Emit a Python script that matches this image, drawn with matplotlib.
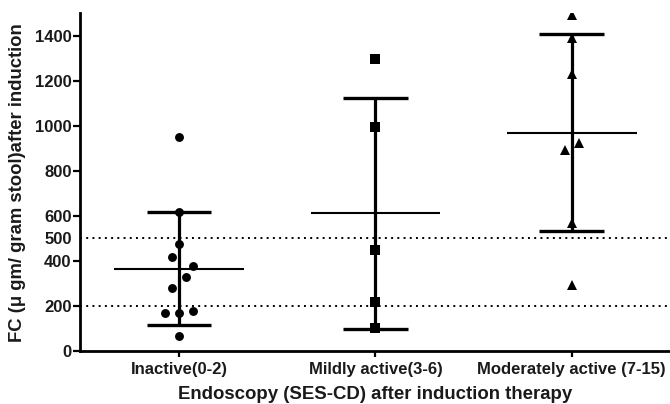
import numpy as np
import matplotlib
matplotlib.use("Agg")
import matplotlib.pyplot as plt

plt.rcParams['font.family'] = ['Liberation Sans', 'DejaVu Sans']

categories = ["Inactive(0-2)", "Mildly active(3-6)", "Moderately active (7-15)"]

inactive = [951, 616, 475, 416, 378, 328, 279, 167, 167, 176, 68]
inactive_offset = [0, 0, 0, -1, 2, 1, -1, -2, 0, 2, 0]

mild = [1296, 997, 447, 216, 101]
mild_offset = [0, 0, 0, 0, 0]

moderate = [1493, 1393, 1231, 923, 893, 570, 293]
moderate_offset = [0, 0, 0, 1, -1, 0, 0]

groups = [inactive, mild, moderate]
offsets = [inactive_offset, mild_offset, moderate_offset]
markers = ['o', 's', '^']
msizes = [6.4, 6.6, 7.6]

ref_lines = [200, 500]
yticks = [0, 200, 400, 500, 600, 800, 1000, 1200, 1400]

fig = plt.figure(figsize=(6.7, 4.04), dpi=100)
ax = fig.add_axes([80/670, 53/404, 590/670, 338/404])

slot = 0.0346
for i, (vals, offs, m, ms) in enumerate(zip(groups, offsets, markers, msizes)):
    vals = np.asarray(vals, dtype=float)
    mean = vals.mean()
    sd = vals.std(ddof=1)
    ax.plot([i, i], [mean - sd, mean + sd], color='black', lw=2.3, solid_capstyle='butt', zorder=3)
    ax.plot([i - 0.165, i + 0.165], [mean + sd, mean + sd], color='black', lw=2.4, solid_capstyle='butt', zorder=3)
    ax.plot([i - 0.165, i + 0.165], [mean - sd, mean - sd], color='black', lw=2.4, solid_capstyle='butt', zorder=3)
    ax.plot([i - 0.33, i + 0.33], [mean, mean], color='black', lw=1.5, solid_capstyle='butt', zorder=3)
    xs = i + np.asarray(offs) * slot
    ax.plot(xs, vals, linestyle='none', marker=m, markersize=ms, color='black',
            markeredgewidth=0, zorder=4)

for y in ref_lines:
    ax.axhline(y, color='black', lw=1.4, linestyle=(0, (1, 2.2)), zorder=2)

ax.set_xlim(-0.504, 2.5)
ax.set_ylim(0, 1502)
ax.set_yticks(yticks)
ax.set_yticklabels([str(t) for t in yticks])
ax.set_xticks(range(len(categories)))
ax.set_xticklabels(categories)

idx500 = yticks.index(500)
ax.yaxis.get_major_ticks()[idx500].tick1line.set_visible(False)

for s in ['top', 'right']:
    ax.spines[s].set_visible(False)
for s in ['left', 'bottom']:
    ax.spines[s].set_linewidth(2.0)

ax.tick_params(axis='y', length=5, width=1.6, pad=1, labelsize=12)
ax.tick_params(axis='x', length=4, width=1.6, pad=4, labelsize=12)
for lab in ax.get_xticklabels() + ax.get_yticklabels():
    lab.set_fontweight('bold')
    lab.set_color('#1a1a1a')

ax.set_ylabel("FC (\u03bc gm/ gram stool)after induction", fontsize=13.3, fontweight='bold', color='#1a1a1a')
ax.yaxis.set_label_coords(-0.0915, 0.497)
ax.set_xlabel("Endoscopy (SES-CD) after induction therapy", fontsize=13.4, fontweight='bold', color='#1a1a1a')
ax.xaxis.set_label_coords(0.5, -0.104)

fig.savefig("out.png", dpi=100)
